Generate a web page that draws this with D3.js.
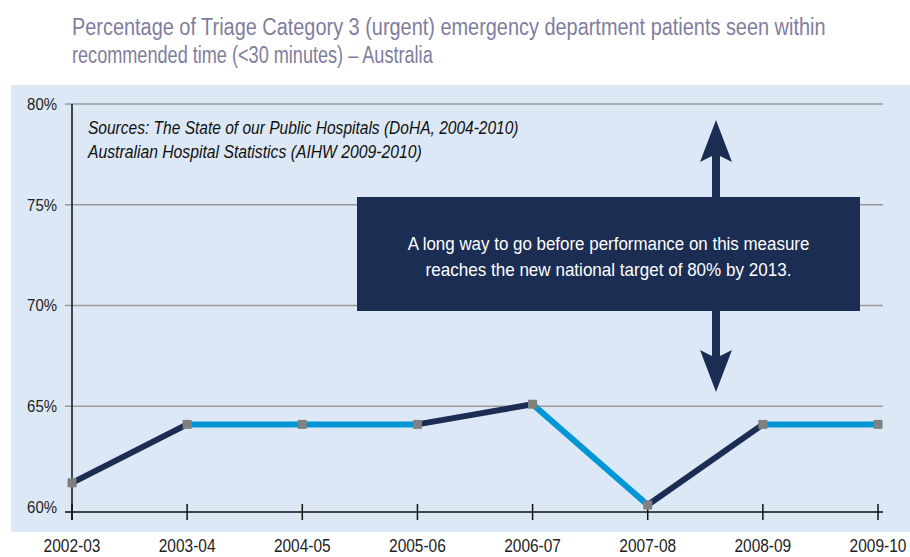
<!DOCTYPE html>
<html>
<head>
<meta charset="utf-8">
<script src="https://cdn.jsdelivr.net/npm/d3@7"></script>
<style>
  body { margin: 0; background: #fff; }
  svg { display: block; font-family: 'Liberation Sans', Arial, sans-serif; }
</style>
</head>
<body>
<script>
// Data
const YEARS = ['2002-03', '2003-04', '2004-05', '2005-06', '2006-07', '2007-08', '2008-09', '2009-10']
const PERCENT_SEEN = [61.2, 64.1, 64.1, 64.1, 65.1, 60.1, 64.1, 64.1]
const Y_TICKS = [60, 65, 70, 75, 80]
const TITLE = [
  'Percentage of Triage Category 3 (urgent) emergency department patients seen within',
  'recommended time (<30 minutes) \u2013 Australia'
]
const SOURCES = [
  'Sources: The State of our Public Hospitals (DoHA, 2004-2010)',
  'Australian Hospital Statistics (AIHW 2009-2010)'
]
const NOTE = [
  'A long way to go before performance on this measure',
  'reaches the new national target of 80% by 2013.'
]

const width = 910
const height = 557
const DARK = '#1b2d52'
const LIGHT = '#0096d6'

// Squeeze text horizontally around its x position (condensed look)
function squeeze(sel, k) {
  sel.attr('transform', function () {
    const x = +this.getAttribute('x')
    return `translate(${x * (1 - k)},0) scale(${k},1)`
  })
}

// Squeeze each text so it spans the given width
function fitWidth(sel, widths) {
  sel.attr('transform', function (_, i) {
    const x = +this.getAttribute('x')
    const k = widths[i] / this.getComputedTextLength()
    return `translate(${x * (1 - k)},0) scale(${k},1)`
  })
}

const svg = d3.select('body').append('svg')
  .attr('width', width)
  .attr('height', height)

// Panel background
svg.append('rect')
  .attr('x', 11)
  .attr('y', 85)
  .attr('width', width - 11)
  .attr('height', 447)
  .attr('fill', '#dce8f5')

// Title
svg.append('g')
  .selectAll('text')
  .data(TITLE)
  .enter()
  .append('text')
  .attr('x', 72)
  .attr('y', (_, i) => 35 + i * 28)
  .attr('fill', '#7f7d9e')
  .style('font-size', '23px')
  .text(d => d)
  .call(fitWidth, [754, 361])

// Scales
const x = d3.scalePoint()
  .domain(YEARS)
  .range([72, 878])

const y = d3.scaleLinear()
  .domain([60, 80])
  .range([507, 104])

const axisY = y(60) + 5
const plotRight = 883

// Gridlines
svg.append('g')
  .selectAll('line')
  .data(Y_TICKS.filter(d => d > 60))
  .enter()
  .append('line')
  .attr('x1', 65)
  .attr('x2', plotRight)
  .attr('y1', d => y(d))
  .attr('y2', d => y(d))
  .style('stroke', '#9a9a9a')
  .style('stroke-width', 1.5)

// Y tick labels
svg.append('g')
  .selectAll('text')
  .data(Y_TICKS)
  .enter()
  .append('text')
  .attr('x', 57)
  .attr('y', d => y(d))
  .attr('dy', '0.35em')
  .style('text-anchor', 'end')
  .style('font-size', '17px')
  .attr('fill', '#222')
  .text(d => `${d}%`)
  .call(squeeze, 0.88)

// Axes lines
svg.append('line')
  .attr('x1', 65)
  .attr('x2', plotRight)
  .attr('y1', axisY)
  .attr('y2', axisY)
  .style('stroke', '#111')
  .style('stroke-width', 1.5)

svg.append('line')
  .attr('x1', x(YEARS[0]))
  .attr('x2', x(YEARS[0]))
  .attr('y1', y(80))
  .attr('y2', axisY + 8)
  .style('stroke', '#111')
  .style('stroke-width', 1.5)

// X ticks
svg.append('g')
  .selectAll('line')
  .data(YEARS)
  .enter()
  .append('line')
  .attr('x1', d => x(d))
  .attr('x2', d => x(d))
  .attr('y1', axisY - 8)
  .attr('y2', axisY + 8)
  .style('stroke', '#111')
  .style('stroke-width', 1.5)

// X labels
svg.append('g')
  .selectAll('text')
  .data(YEARS)
  .enter()
  .append('text')
  .attr('x', d => x(d))
  .attr('y', 552)
  .style('text-anchor', 'middle')
  .style('font-size', '18px')
  .attr('fill', '#222')
  .text(d => d)
  .call(squeeze, 0.86)

// Sources
svg.append('g')
  .selectAll('text')
  .data(SOURCES)
  .enter()
  .append('text')
  .attr('x', 88)
  .attr('y', (_, i) => 134 + i * 24)
  .style('font-size', '18px')
  .style('font-style', 'italic')
  .attr('fill', '#111')
  .text(d => d)
  .call(fitWidth, [431, 334])

// Line segments, dark when rising, light otherwise
const segments = d3.pairs(PERCENT_SEEN.map((v, i) => ({ year: YEARS[i], value: v })))
svg.append('g')
  .selectAll('line')
  .data(segments)
  .enter()
  .append('line')
  .attr('x1', d => x(d[0].year))
  .attr('y1', d => y(d[0].value))
  .attr('x2', d => x(d[1].year))
  .attr('y2', d => y(d[1].value))
  .style('stroke', d => d[1].value > d[0].value ? DARK : LIGHT)
  .style('stroke-width', 6)

// Markers
const m = 9
svg.append('g')
  .selectAll('rect')
  .data(PERCENT_SEEN)
  .enter()
  .append('rect')
  .attr('x', (_, i) => x(YEARS[i]) - m / 2)
  .attr('y', d => y(d) - m / 2)
  .attr('width', m)
  .attr('height', m)
  .attr('fill', '#808080')

// Annotation arrows
const arrowX = 716
const arrow = svg.append('g').attr('fill', DARK)
function arrowPath(tipY, dir) {
  const head = 42 * dir
  const back = 36 * dir
  return `M${arrowX},${tipY} L${arrowX + 16},${tipY + head} L${arrowX + 4},${tipY + back} L${arrowX + 4},${(197 + 311) / 2} L${arrowX - 4},${(197 + 311) / 2} L${arrowX - 4},${tipY + back} L${arrowX - 16},${tipY + head} Z`
}
arrow.append('path').attr('d', arrowPath(120, 1))
arrow.append('path').attr('d', arrowPath(392, -1))

// Annotation box
svg.append('rect')
  .attr('x', 357)
  .attr('y', 197)
  .attr('width', 503)
  .attr('height', 114)
  .attr('fill', DARK)

svg.append('g')
  .selectAll('text')
  .data(NOTE)
  .enter()
  .append('text')
  .attr('x', (357 + 860) / 2)
  .attr('y', (_, i) => 250 + i * 26.5)
  .style('text-anchor', 'middle')
  .style('font-size', '19px')
  .attr('fill', '#fff')
  .text(d => d)
  .call(fitWidth, [402, 366])
</script>
</body>
</html>
